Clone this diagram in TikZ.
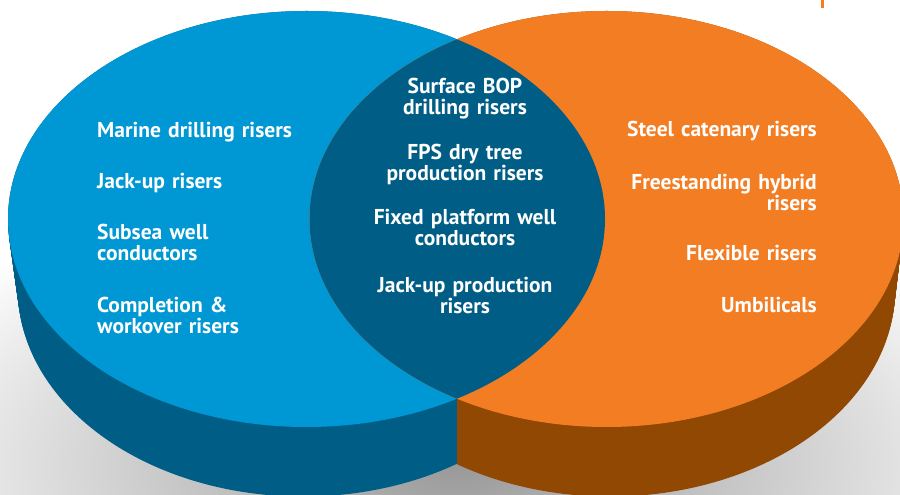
\documentclass[tikz,border=0pt]{standalone}
\usepackage{fontspec}
\setmainfont{PT Sans}
\usepackage{tikz}
\usetikzlibrary{positioning}
\definecolor{blueface}{RGB}{0,152,212}
\definecolor{blueside}{RGB}{0,94,134}
\definecolor{lensface}{RGB}{0,94,134}
\definecolor{orangeface}{RGB}{243,125,34}
\definecolor{orangeside}{RGB}{145,72,2}
\tikzstyle{item} = [text=white, inner sep=0pt,
font=\bfseries\fontsize{21.5}{21}\selectfont]
\tikzstyle{leftitem} = [item, text width=240pt, align=left, node distance=31pt]
\tikzstyle{rightitem} = [item, text width=240pt, align=right, node distance=33pt]
\tikzstyle{miditem} = [item, text width=260pt, align=center, node distance=24pt]
\newcommand{\sweep}[7]{ %
  % Side of a disc: stack ellipses from top centre #2,#3 (x radius #4)
  % down to bottom centre #5,#6 (x radius #7), all with y radius 208.
  \foreach \t in {0,0.02,...,1} { %
    \fill[#1] ({#2+(#5-#2)*\t},{#3+(#6-#3)*\t})
      ellipse [x radius={#4+(#7-#4)*\t}, y radius=208] ;%
  } ;
}

\begin{document}
\begin{tikzpicture}[x=1pt,y=1pt]
				\useasboundingbox (0,0) rectangle (900,495) ;
				\clip (0,0) rectangle (900,495) ;
				\fill[white] (0,0) rectangle (900,495) ;
				\shade[inner color=black!40, outer color=white] (457,30) ellipse [x radius=620, y radius=300] ;

				% sides
				\begin{scope}
				\clip (0,0) rectangle (457,495) ;
				\sweep{blueside}{306.5}{276}{298.5}{303}{205}{285}
				\end{scope}
				\begin{scope}
				\clip (457,0) rectangle (900,495) ;
				\sweep{orangeside}{606.5}{276}{297}{610}{205}{285}
				\end{scope}

				% top faces
				\fill[blueface] (306.5,276) ellipse [x radius=298.5, y radius=208] ;
				\fill[orangeface] (606.5,276) ellipse [x radius=297, y radius=208] ;
				\begin{scope}
				\clip (306.5,276) ellipse [x radius=298.5, y radius=208] ;
				\fill[lensface] (606.5,276) ellipse [x radius=297, y radius=208] ;
				\end{scope}

				\fill[orangeface] (821,495) rectangle (824,487) ;

				% left
				\node[leftitem, anchor=west] (mar) at (97,363) {Marine drilling risers} ; %
				\node[leftitem, below=of mar] (jack) {Jack-up risers} ; %
				\node[leftitem, below=of jack] (subsea) {Subsea well\\conductors} ; %
				\node[leftitem, below=36pt of subsea] (compl) {Completion \&\\workover risers} ; %

				% middle
				\node[miditem] (bop) at (465,396) {Surface BOP\\drilling risers} ; %
				\node[miditem, below=of bop] (fps) {FPS dry tree\\production risers} ; %
				\node[miditem, below=of fps] (fixed) {Fixed platform well\\conductors} ; %
				\node[miditem, below=31pt of fixed] (jackprod) {Jack-up production\\risers} ; %

				% right
				\node[rightitem, anchor=east] (scr) at (817,364) {Steel catenary risers} ; %
				\node[rightitem, below=of scr] (hybrid) {Freestanding hybrid\\risers} ; %
				\node[rightitem, below=34pt of hybrid] (flex) {Flexible risers} ; %
				\node[rightitem, below=36pt of flex] (umb) {Umbilicals} ; %
\end{tikzpicture}
\end{document}
